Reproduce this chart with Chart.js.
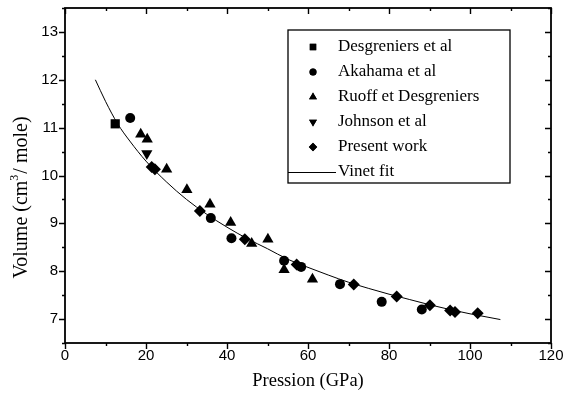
<!DOCTYPE html>
<html>
<head>
<meta charset="utf-8">
<script src="https://cdn.jsdelivr.net/npm/chart.js@4"></script>
<style>
  html, body { margin: 0; padding: 0; background: #fff; }
  canvas { display: block; }
</style>
</head>
<body>
<canvas id="chart" width="574" height="396"></canvas>
<script>
// data (pressure in GPa, volume in cm3/mole)
var desgreniersP = [12.4];
var desgreniersV = [11.08];

var akahamaP = [16.1, 36.0, 41.1, 54.1, 58.3, 67.9, 78.2, 88.1];
var akahamaV = [11.20, 9.11, 8.69, 8.22, 8.09, 7.73, 7.36, 7.20];

var ruoffP = [18.7, 20.3, 25.1, 30.1, 35.8, 40.9, 46.1, 50.1, 54.1, 61.1];
var ruoffV = [10.86, 10.76, 10.13, 9.70, 9.40, 9.02, 8.58, 8.67, 8.03, 7.83];

var johnsonP = [20.2];
var johnsonV = [10.46];

var presentP = [21.4, 22.2, 33.3, 44.4, 57.2, 71.3, 81.9, 90.1, 95.1, 96.3, 101.9];
var presentV = [10.18, 10.13, 9.26, 8.67, 8.14, 7.72, 7.47, 7.29, 7.18, 7.15, 7.12];

var fitP = [7.5, 10, 13, 16, 20, 25, 30, 35, 40, 45, 50, 55, 60, 65, 70, 75, 80, 85, 90, 95, 100, 107.5];
var fitV = [12.0, 11.55, 11.08, 10.72, 10.30, 9.87, 9.50, 9.19, 8.92, 8.68, 8.47, 8.25, 8.08, 7.92, 7.77, 7.64, 7.52, 7.41, 7.30, 7.20, 7.11, 6.99];

var xTicks = [0, 20, 40, 60, 80, 100, 120];
var yTicks = [7, 8, 9, 10, 11, 12, 13];

var legendNames = ["Desgreniers et al", "Akahama et al", "Ruoff et Desgreniers", "Johnson et al", "Present work", "Vinet fit"];

function toPoints(xs, ys) {
  var pts = [];
  for (var i = 0; i < xs.length; i++) {
    pts.push({ x: xs[i], y: ys[i] });
  }
  return pts;
}

function markerSet(label, xs, ys, style, radius, rotation) {
  return {
    label: label,
    data: toPoints(xs, ys),
    pointStyle: style,
    pointRadius: radius,
    pointRotation: rotation,
    backgroundColor: "#000",
    borderColor: "#000",
    borderWidth: 0,
    showLine: false
  };
}

var serif = "'Liberation Serif', 'DejaVu Serif', serif";
var sans = "'Liberation Sans', Arial, sans-serif";

var framePlugin = {
  id: "frame",
  afterDraw: function (chart) {
    var ctx = chart.ctx;
    var a = chart.chartArea;
    var xs = chart.scales.x;
    var ys = chart.scales.y;
    ctx.save();
    ctx.strokeStyle = "#000";
    ctx.fillStyle = "#000";

    // ticks: outward on left/bottom, inward on top/right
    ctx.lineWidth = 1.4;
    ctx.beginPath();
    for (var v = 0; v <= 120; v += 10) {
      var px = Math.round(xs.getPixelForValue(v)) + 0.5;
      var len = (v % 20 === 0) ? 6 : 3;
      ctx.moveTo(px, a.bottom); ctx.lineTo(px, a.bottom + len);
      ctx.moveTo(px, a.top); ctx.lineTo(px, a.top + len);
    }
    for (var w = 6.5; w <= 13.5; w += 0.5) {
      var py = Math.round(ys.getPixelForValue(w)) + 0.5;
      var l2 = (w % 1 === 0) ? 6 : 3;
      ctx.moveTo(a.left, py); ctx.lineTo(a.left - l2, py);
      ctx.moveTo(a.right, py); ctx.lineTo(a.right - l2, py);
    }
    ctx.stroke();

    // frame
    ctx.lineWidth = 1.8;
    ctx.strokeRect(a.left, a.top, a.right - a.left, a.bottom - a.top);

    // tick labels
    ctx.font = "15px " + sans;
    ctx.textAlign = "center";
    ctx.textBaseline = "middle";
    xTicks.forEach(function (t) {
      ctx.fillText(String(t), xs.getPixelForValue(t), a.bottom + 13);
    });
    ctx.textAlign = "right";
    yTicks.forEach(function (t) {
      ctx.fillText(String(t), a.left - 7, ys.getPixelForValue(t));
    });

    // axis titles
    ctx.font = "18.5px " + serif;
    ctx.textAlign = "center";
    ctx.fillText("Pression (GPa)", (a.left + a.right) / 2, 381);

    var p1 = "Volume (cm", p2 = "3", p3 = "/ mole)";
    ctx.font = "20px " + serif;
    var w1 = ctx.measureText(p1).width;
    var w3 = ctx.measureText(p3).width;
    ctx.font = "12px " + serif;
    var w2 = ctx.measureText(p2).width;
    var total = w1 + w2 + w3;
    ctx.translate(22, 198);
    ctx.rotate(-Math.PI / 2);
    ctx.textAlign = "left";
    ctx.font = "20px " + serif;
    ctx.fillText(p1, -total / 2, 0);
    ctx.font = "12px " + serif;
    ctx.fillText(p2, -total / 2 + w1, -7);
    ctx.font = "20px " + serif;
    ctx.fillText(p3, -total / 2 + w1 + w2 + 1, 0);
    ctx.restore();

    // legend box
    ctx.save();
    ctx.strokeStyle = "#000";
    ctx.fillStyle = "#000";
    ctx.lineWidth = 1.3;
    var bx = 288, by = 30, bw = 222, bh = 153;
    ctx.strokeRect(bx, by, bw, bh);
    ctx.font = "17px " + serif;
    ctx.textAlign = "left";
    ctx.textBaseline = "middle";
    for (var i = 0; i < legendNames.length; i++) {
      var ry = 47 + i * 25;
      var ds = chart.data.datasets[i];
      if (ds.showLine) {
        ctx.lineWidth = 1;
        ctx.beginPath();
        ctx.moveTo(bx, ry + 0.5);
        ctx.lineTo(336, ry + 0.5);
        ctx.stroke();
      } else {
        Chart.helpers.drawPoint(ctx, {
          pointStyle: ds.pointStyle,
          radius: ds.pointRadius * 0.7,
          rotation: ds.pointRotation,
          borderWidth: 0
        }, 313, ry);
        ctx.fill();
      }
      ctx.fillText(legendNames[i], 338, ry);
    }
    ctx.restore();
  }
};

new Chart(document.getElementById("chart"), {
  type: "scatter",
  data: {
    datasets: [
      markerSet(legendNames[0], desgreniersP, desgreniersV, "rect", 6.5, 0),
      markerSet(legendNames[1], akahamaP, akahamaV, "circle", 5, 0),
      markerSet(legendNames[2], ruoffP, ruoffV, "triangle", 6.5, 0),
      markerSet(legendNames[3], johnsonP, johnsonV, "triangle", 6.5, 180),
      markerSet(legendNames[4], presentP, presentV, "rectRot", 6, 0),
      {
        label: legendNames[5],
        data: toPoints(fitP, fitV),
        showLine: true,
        borderColor: "#000",
        borderWidth: 1,
        pointRadius: 0,
        cubicInterpolationMode: "monotone",
        fill: false
      }
    ]
  },
  options: {
    responsive: false,
    animation: false,
    layout: { padding: { top: 8, right: 23, left: 0, bottom: 0 } },
    plugins: { legend: { display: false }, tooltip: { enabled: false } },
    scales: {
      x: {
        type: "linear",
        min: 0,
        max: 120,
        ticks: { display: false },
        grid: { display: false },
        border: { display: false },
        afterFit: function (s) { s.height = 53; }
      },
      y: {
        type: "linear",
        min: 6.5,
        max: 13.5,
        ticks: { display: false },
        grid: { display: false },
        border: { display: false },
        afterFit: function (s) { s.width = 65; }
      }
    }
  },
  plugins: [framePlugin]
});
</script>
</body>
</html>
